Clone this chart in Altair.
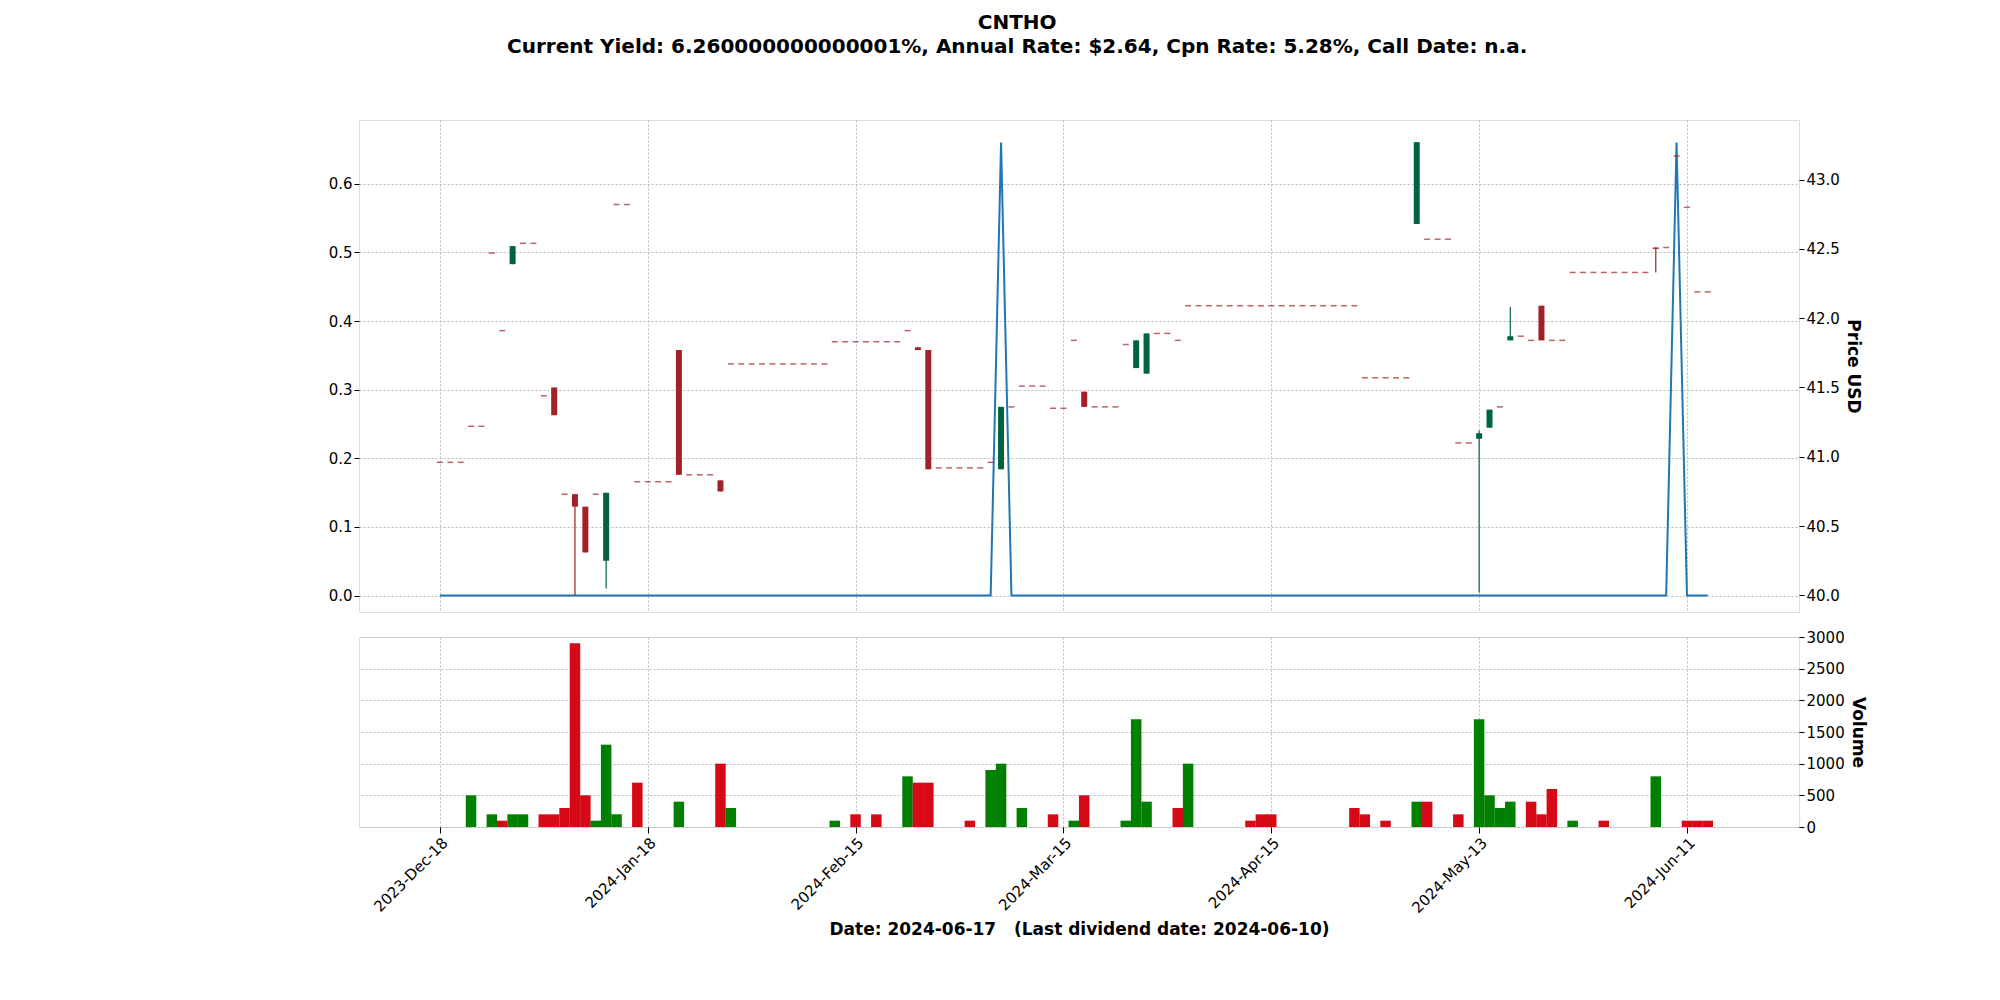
import altair as alt
import pandas as pd

# ---- data ----
tick_labels = ["2023-Dec-18", "2024-Jan-18", "2024-Feb-15", "2024-Mar-15",
               "2024-Apr-15", "2024-May-13", "2024-Jun-11"]

opens = [40.96, 40.96, 40.96, 41.22, 41.22, 42.47, 41.91, 42.39, 42.54, 42.54,
         41.44, 41.50, 40.73, 40.73, 40.64, 40.73, 40.25, 42.82, 42.82, 40.82,
         40.82, 40.82, 40.82, 41.77, 40.87, 40.87, 40.87, 40.83, 41.67, 41.67,
         41.67, 41.67, 41.67, 41.67, 41.67, 41.67, 41.67, 41.67, 41.83, 41.83,
         41.83, 41.83, 41.83, 41.83, 41.83, 41.91, 41.79, 41.77, 40.92, 40.92,
         40.92, 40.92, 40.92, 40.96, 40.91, 41.36, 41.51, 41.51, 41.51, 41.35,
         41.35, 41.84, 41.47, 41.36, 41.36, 41.36, 41.81, 41.64, 41.60, 41.89,
         41.89, 41.84, 42.09, 42.09, 42.09, 42.09, 42.09, 42.09, 42.09, 42.09,
         42.09, 42.09, 42.09, 42.09, 42.09, 42.09, 42.09, 42.09, 42.09, 41.57,
         41.57, 41.57, 41.57, 41.57, 42.68, 42.57, 42.57, 42.57, 41.10, 41.10,
         41.13, 41.21, 41.36, 41.84, 41.87, 41.84, 42.09, 41.84, 41.84, 42.33,
         42.33, 42.33, 42.33, 42.33, 42.33, 42.33, 42.33, 42.51, 42.51, 43.17,
         42.80, 42.19, 42.19]
closes = [40.96, 40.96, 40.96, 41.22, 41.22, 42.47, 41.91, 42.52, 42.54, 42.54,
          41.44, 41.30, 40.73, 40.64, 40.31, 40.73, 40.74, 42.82, 42.82, 40.82,
          40.82, 40.82, 40.82, 40.87, 40.87, 40.87, 40.87, 40.75, 41.67, 41.67,
          41.67, 41.67, 41.67, 41.67, 41.67, 41.67, 41.67, 41.67, 41.83, 41.83,
          41.83, 41.83, 41.83, 41.83, 41.83, 41.91, 41.77, 40.91, 40.92, 40.92,
          40.92, 40.92, 40.92, 40.96, 41.36, 41.36, 41.51, 41.51, 41.51, 41.35,
          41.35, 41.84, 41.36, 41.36, 41.36, 41.36, 41.81, 41.84, 41.89, 41.89,
          41.89, 41.84, 42.09, 42.09, 42.09, 42.09, 42.09, 42.09, 42.09, 42.09,
          42.09, 42.09, 42.09, 42.09, 42.09, 42.09, 42.09, 42.09, 42.09, 41.57,
          41.57, 41.57, 41.57, 41.57, 43.27, 42.57, 42.57, 42.57, 41.10, 41.10,
          41.17, 41.34, 41.36, 41.87, 41.87, 41.84, 41.84, 41.84, 41.84, 42.33,
          42.33, 42.33, 42.33, 42.33, 42.33, 42.33, 42.33, 42.50, 42.51, 43.17,
          42.80, 42.19, 42.19]
# wicks beyond the body (index -> value)
high_extra = {100: 41.19, 103: 42.08}
low_extra = {13: 40.00, 16: 40.05, 100: 40.02, 117: 42.33}

dividend_idx = [54, 119]
dividend_val = [0.66, 0.66]

vol_idx = [3, 5, 6, 7, 8, 10, 11, 12, 13, 14, 15, 16, 17, 19, 23, 27, 28, 38, 40, 42,
           45, 46, 47, 51, 53, 54, 56, 59, 61, 62, 66, 67, 68, 71, 72, 78, 79, 80, 88, 89,
           91, 94, 95, 98, 100, 101, 102, 103, 105, 106, 107, 109, 112, 117, 120, 121, 122]
vol_val = [500, 200, 100, 200, 200, 200, 200, 300, 2900, 500, 100, 1300, 200, 700, 400,
           1000, 300, 100, 200, 200, 800, 700, 700, 100, 900, 1000, 300, 200, 100, 500,
           100, 1700, 400, 300, 1000, 100, 200, 200, 300, 200, 100, 400, 400, 200, 1700,
           500, 300, 400, 400, 200, 600, 100, 100, 800, 100, 100, 100]
vol_up = [1, 1, 0, 1, 1, 0, 0, 0, 0, 0, 1, 1, 1, 0, 1, 0, 1, 1, 0, 0,
          1, 0, 0, 0, 1, 1, 1, 0, 1, 0, 1, 1, 1, 0, 1, 0, 0, 0, 0, 0,
          0, 1, 0, 0, 1, 1, 1, 1, 0, 0, 0, 1, 0, 1, 0, 0, 0]

n = len(opens)
rows = []
for i in range(n):
    o, c = opens[i], closes[i]
    rows.append(dict(i=i, o=o, c=c,
                     h=high_extra.get(i, max(o, c)),
                     l=low_extra.get(i, min(o, c)),
                     dir="up" if c > o else ("down" if c < o else "flat")))
px = pd.DataFrame(rows)
div = pd.DataFrame(dict(i=list(range(n)),
                        v=[dividend_val[dividend_idx.index(i)] if i in dividend_idx else 0.0
                           for i in range(n)]))
vol = pd.DataFrame(dict(i=vol_idx, v=vol_val, vdir=["vup" if u else "vdown" for u in vol_up]))

FONT = "DejaVu Sans"
XD = [-7.3, 130.3]
W = 1440
label_expr = "[" + ",".join(f"'{t}'" for t in tick_labels) + "][round(datum.value/20)]"

GREEN_C, RED_C = "#006340", "#a02128"
grid = dict(grid=True, gridDash=[2, 2], gridColor="#bbbbbb", gridWidth=1)

x_top = alt.X("i:Q", scale=alt.Scale(domain=XD, nice=False, zero=False),
              axis=alt.Axis(values=[0, 20, 40, 60, 80, 100, 120], labels=False, ticks=False,
                            domain=False, title=None, **grid))
price_scale = alt.Scale(domain=[39.88, 43.43], nice=False, zero=False)
price_axis = alt.Axis(orient="right", values=[40.0, 40.5, 41.0, 41.5, 42.0, 42.5, 43.0],
                      format=".1f", title="Price USD", titleFontSize=17, titleFontWeight="bold",
                      grid=False, domain=False, labelFontSize=15, tickSize=5)

div_line = alt.Chart(div).mark_line(color="#1f77b4", strokeWidth=2).encode(
    x=x_top,
    y=alt.Y("v:Q", scale=alt.Scale(domain=[-0.024, 0.693], nice=False),
            axis=alt.Axis(orient="left", values=[0, 0.1, 0.2, 0.3, 0.4, 0.5, 0.6], format=".1f",
                          title=None, domain=False, labelFontSize=15, tickSize=5, **grid)))

cmap = alt.Scale(domain=["up", "down", "flat"], range=[GREEN_C, RED_C, RED_C])
wick = alt.Chart(px).transform_filter("datum.h > datum.l").mark_rule(strokeWidth=1.2).encode(
    x=x_top, y=alt.Y("l:Q", scale=price_scale, axis=price_axis), y2="h:Q",
    color=alt.Color("dir:N", scale=cmap, legend=None))
body = alt.Chart(px).transform_filter("datum.dir != 'flat'").mark_bar(size=6).encode(
    x=x_top, y=alt.Y("o:Q", scale=price_scale, axis=price_axis), y2="c:Q",
    color=alt.Color("dir:N", scale=cmap, legend=None))
doji = alt.Chart(px).transform_filter("datum.dir == 'flat'").mark_tick(
    orient="horizontal", size=6, thickness=1.5, color=RED_C).encode(
    x=x_top, y=alt.Y("o:Q", scale=price_scale, axis=price_axis))

candles = alt.layer(wick, body, doji)
top = alt.layer(div_line, candles).resolve_scale(y="independent").properties(width=W, height=492)

bottom = alt.Chart(vol).mark_bar(size=10.5).encode(
    x=alt.X("i:Q", scale=alt.Scale(domain=XD, nice=False, zero=False),
            axis=alt.Axis(values=[0, 20, 40, 60, 80, 100, 120], labelExpr=label_expr,
                          labelAngle=-45, labelAlign="right", labelBaseline="top",
                          labelFontSize=15, tickSize=6, domain=False,
                          title="Date: 2024-06-17\u00a0\u00a0\u00a0(Last dividend date: 2024-06-10)",
                          titleFontSize=17, titleFontWeight="bold", titlePadding=6, **grid)),
    y=alt.Y("v:Q", scale=alt.Scale(domain=[0, 3000], nice=False),
            axis=alt.Axis(orient="right", values=[0, 500, 1000, 1500, 2000, 2500, 3000],
                          format="d", title="Volume", titleFontSize=17, titleFontWeight="bold",
                          domain=False, labelFontSize=15, tickSize=5, **grid)),
    color=alt.Color("vdir:N", scale=alt.Scale(domain=["vup", "vdown"], range=["#007f00", "#d60a16"]),
                    legend=None)
).properties(width=W, height=190)

chart = alt.vconcat(top, bottom, spacing=16).resolve_scale(color="independent").properties(
    title=alt.TitleParams(
        text=["CNTHO",
              "Current Yield: 6.260000000000001%, Annual Rate: $2.64, Cpn Rate: 5.28%, Call Date: n.a."],
        fontSize=20, fontWeight="bold", font=FONT, anchor="middle", offset=63, lineHeight=24,
        dx=-80),
    padding={"left": 319, "top": 4, "right": 100, "bottom": 10}
).configure_view(stroke="transparent", strokeWidth=0).configure(font=FONT).configure_axis(
    labelFont=FONT, titleFont=FONT, labelColor="#000", titleColor="#000", tickColor="#000")

chart.save("out.html", embed_options={"renderer": "svg", "actions": False})
